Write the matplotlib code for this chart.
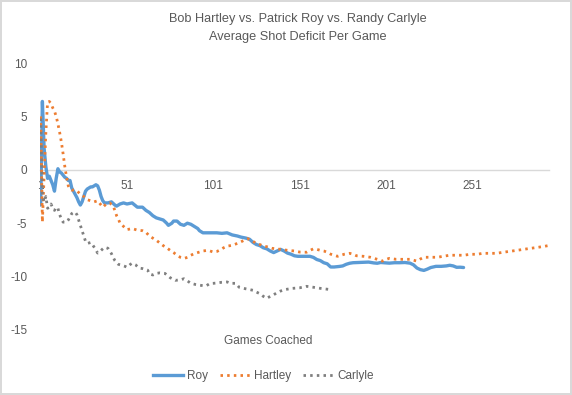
import matplotlib
matplotlib.use("Agg")
import matplotlib.pyplot as plt
from matplotlib.lines import Line2D

plt.rcParams['font.family'] = ['Liberation Sans', 'DejaVu Sans']

title = "Bob Hartley vs. Patrick Roy vs. Randy Carlyle\nAverage Shot Deficit Per Game"
x_title = "Games Coached"
x_ticks = [1, 51, 101, 151, 201, 251]
y_ticks = [10, 5, 0, -5, -10, -15]

roy_games = [1, 2, 3, 4, 5, 6, 7, 8, 9, 10, 11, 12, 13, 14, 15, 16, 17, 18, 19, 20,
             21, 22, 23, 24, 25, 26, 27, 28, 29, 30, 31, 32, 33, 34, 35, 36, 37, 38, 40, 42,
             44, 45, 47, 49, 51, 54, 57, 60, 62, 64, 66, 68, 70, 72, 74, 75, 77, 78, 80, 82,
             84, 86, 88, 90, 92, 93, 95, 97, 100, 103, 106, 109, 112, 115, 117, 120, 122, 124, 126, 128,
             130, 132, 134, 136, 138, 140, 142, 144, 146, 148, 150, 152, 155, 157, 159, 161, 163, 165, 167, 169,
             171, 174, 176, 178, 180, 182, 185, 188, 191, 194, 196, 198, 200, 203, 206, 209, 212, 215, 217, 219,
             221, 223, 225, 227, 230, 233, 236, 238, 240, 242, 244, 246]
roy_vals = [-3.3, 6.4, 2.0, 0.3, -0.8, -0.6, -1.0, -1.4, -2.0, -0.8, 0.1, -0.2, -0.3, -0.5, -0.7, -0.8, -1.0, -1.0, -1.7, -2.0,
            -2.3, -2.6, -3.0, -3.3, -3.0, -2.5, -2.0, -1.8, -1.7, -1.6, -1.6, -1.5, -1.4, -1.5, -1.9, -2.5, -2.9, -3.1, -3.1, -3.0,
            -3.3, -3.4, -3.2, -3.1, -3.2, -3.1, -3.5, -3.5, -3.8, -4.0, -4.3, -4.5, -4.6, -4.7, -5.0, -5.2, -5.0, -4.8, -4.8, -5.1,
            -5.2, -5.0, -5.1, -5.3, -5.5, -5.7, -5.9, -5.9, -5.9, -5.9, -5.95, -5.9, -6.1, -6.2, -6.3, -6.4, -6.5, -6.8, -7.0, -7.1,
            -7.3, -7.4, -7.6, -7.75, -7.6, -7.45, -7.6, -7.8, -7.9, -8.05, -8.1, -8.1, -8.1, -8.1, -8.2, -8.4, -8.5, -8.7, -8.8, -9.1,
            -9.1, -9.05, -9.0, -8.85, -8.75, -8.7, -8.68, -8.66, -8.64, -8.72, -8.75, -8.68, -8.7, -8.74, -8.7, -8.7, -8.68, -8.74, -8.9, -9.2,
            -9.35, -9.42, -9.3, -9.15, -9.04, -9.04, -9.0, -8.94, -9.0, -9.13, -9.12, -9.15]

hartley_games = [1, 2, 3, 4, 5, 6, 7, 8, 9, 10, 11, 12, 13, 14, 15, 16, 17, 18, 19, 21,
                 22, 24, 26, 28, 30, 32, 34, 36, 37, 39, 41, 43, 44, 45, 46, 47, 49, 51, 54, 57,
                 60, 62, 64, 66, 68, 70, 72, 74, 76, 78, 80, 82, 84, 86, 88, 90, 92, 95, 98, 101,
                 103, 105, 107, 109, 112, 114, 117, 120, 121, 124, 126, 128, 130, 132, 135, 140, 144, 148, 151, 155,
                 157, 159, 161, 163, 165, 167, 169, 171, 173, 175, 177, 180, 182, 184, 188, 192, 196, 199, 201, 203,
                 207, 211, 215, 219, 221, 223, 227, 231, 234, 238, 242, 246, 250, 254, 257, 261, 265, 269, 273, 277,
                 281, 285, 289, 293, 295]
hartley_vals = [5.0, -4.9, -0.5, 3.5, 6.3, 6.4, 6.2, 5.8, 5.5, 5.0, 4.3, 3.5, 2.6, 1.5, 0.3, -0.7, -1.5, -1.8, -1.9, -1.9,
                -1.95, -2.3, -2.5, -2.8, -2.9, -3.0, -2.9, -3.3, -3.5, -3.2, -3.1, -3.4, -3.8, -4.3, -4.6, -5.0, -5.3, -5.6, -5.5, -5.65,
                -5.7, -5.85, -6.2, -6.4, -6.6, -6.85, -7.1, -7.3, -7.54, -7.75, -8.0, -8.2, -8.3, -8.2, -8.0, -7.85, -7.75, -7.6, -7.54, -7.7,
                -7.65, -7.5, -7.3, -7.15, -7.07, -6.95, -6.75, -6.5, -6.45, -6.7, -6.9, -7.0, -7.15, -7.2, -7.35, -7.45, -7.54, -7.6, -7.7, -7.72,
                -7.55, -7.4, -7.45, -7.54, -7.6, -7.72, -7.9, -8.0, -8.1, -8.0, -7.9, -7.82, -7.9, -8.05, -8.1, -8.19, -8.38, -8.55, -8.4, -8.29,
                -8.38, -8.38, -8.38, -8.55, -8.35, -8.19, -8.19, -8.19, -8.1, -8.0, -8.0, -8.0, -7.91, -7.91, -7.82, -7.82, -7.82, -7.72, -7.63, -7.54,
                -7.44, -7.35, -7.26, -7.16, -7.1]

carlyle_games = [1, 2, 3, 4, 5, 6, 7, 8, 9, 10, 11, 12, 13, 14, 15, 16, 17, 18, 19, 20,
                 21, 22, 23, 24, 25, 26, 27, 28, 29, 30, 31, 32, 33, 34, 35, 36, 37, 38, 39, 40,
                 41, 42, 43, 44, 45, 46, 48, 50, 51, 53, 54, 56, 58, 60, 63, 64, 66, 68, 70, 73,
                 76, 79, 82, 84, 86, 88, 91, 95, 97, 99, 101, 103, 106, 109, 111, 114, 116, 120, 124, 126,
                 128, 130, 132, 134, 136, 138, 140, 143, 147, 151, 155, 159, 163, 168]
carlyle_vals = [4.8, -2.3, -3.0, -2.5, -3.6, -3.5, -3.2, -3.6, -3.8, -3.5, -3.6, -4.2, -4.6, -4.9, -4.9, -4.9, -4.7, -4.4, -4.1, -4.0,
                -3.95, -4.2, -4.7, -5.2, -5.7, -6.2, -6.7, -6.9, -6.85, -6.8, -7.0, -7.25, -7.5, -7.8, -7.7, -7.55, -7.4, -7.26, -7.3, -7.35,
                -7.6, -7.85, -8.2, -8.5, -8.7, -8.85, -8.94, -9.05, -9.13, -8.85, -8.75, -8.9, -9.2, -9.25, -9.4, -9.75, -9.85, -9.7, -9.65, -9.7,
                -10.1, -10.35, -10.3, -10.2, -10.4, -10.63, -10.75, -10.85, -10.85, -10.65, -10.63, -10.6, -10.53, -10.5, -10.63, -10.63, -11.0, -11.15, -11.28, -11.45,
                -11.6, -11.85, -12.03, -11.85, -11.7, -11.5, -11.35, -11.2, -11.1, -11.05, -10.91, -11.0, -11.1, -11.2]

n_games = 295
text_col = "#595959"
dot_style = (0, (0.9, 1.5))

fig = plt.figure(figsize=(5.72, 3.95), dpi=100)
fig.patch.set_facecolor("white")
fig.patch.set_edgecolor("#D9D9D9")
fig.patch.set_linewidth(1.5)

ax = fig.add_axes([39.8 / 572, 1 - 330 / 395, (549 - 39.8) / 572, (330 - 63) / 395])

ax.plot(roy_games, roy_vals, color="#5B9BD5", lw=2.4, solid_capstyle="round", solid_joinstyle="round", label="Roy")
ax.plot(hartley_games, hartley_vals, color="#ED7D31", lw=2.0, linestyle=dot_style, dash_capstyle="butt", label="Hartley")
ax.plot(carlyle_games, carlyle_vals, color="#7F7F7F", lw=2.0, linestyle=dot_style, dash_capstyle="butt", label="Carlyle")

ax.set_xlim(0.5, n_games + 0.5)
ax.set_ylim(-15, 10)
ax.set_xticks(x_ticks)
ax.set_xticklabels([str(t) for t in x_ticks])
ax.set_yticks(y_ticks)
ax.set_yticklabels([str(t) for t in y_ticks])

for s in ["left", "right", "top"]:
    ax.spines[s].set_visible(False)
ax.spines["bottom"].set_position(("data", 0))
ax.spines["bottom"].set_color("#D9D9D9")
ax.spines["bottom"].set_linewidth(1.0)
ax.spines["bottom"].set_zorder(0)

ax.tick_params(axis="x", length=0, pad=7, labelsize=8.5, labelcolor=text_col)
ax.tick_params(axis="y", length=0, pad=9, labelsize=8.5, labelcolor=text_col)
ax.set_facecolor("none")

fig.text(298 / 572, 1 - 28 / 395, title, ha="center", va="center", fontsize=9.2, color=text_col, linespacing=1.6)
fig.text(268 / 572, 1 - 341 / 395, x_title, ha="center", va="center", fontsize=8.5, color=text_col)

handles = [
    Line2D([], [], color="#5B9BD5", lw=2.4),
    Line2D([], [], color="#ED7D31", lw=2.0, linestyle=dot_style, dash_capstyle="butt"),
    Line2D([], [], color="#7F7F7F", lw=2.0, linestyle=dot_style, dash_capstyle="butt"),
]
fig.legend(handles, ["Roy", "Hartley", "Carlyle"], loc="center", bbox_to_anchor=(263 / 572, 1 - 376 / 395),
           ncol=3, frameon=False, fontsize=8.5, labelcolor=text_col, handlelength=2.6,
           handletextpad=0.3, columnspacing=1.0)

fig.savefig("out.png", dpi=100, facecolor=fig.get_facecolor(), edgecolor=fig.get_edgecolor())
